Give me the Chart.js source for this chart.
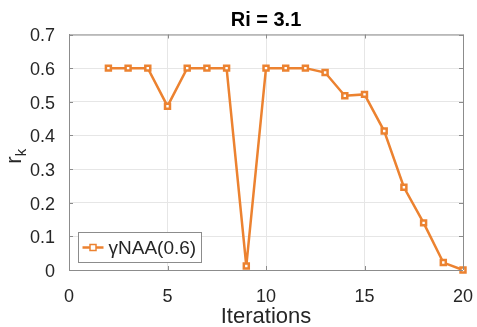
<!DOCTYPE html>
<html>
<head>
<meta charset="utf-8">
<script src="https://cdn.jsdelivr.net/npm/chart.js@4/dist/chart.umd.min.js"></script>
<style>
  html, body { margin: 0; padding: 0; background: #fff; }
  canvas { display: block; }
</style>
</head>
<body>
<canvas id="chart-canvas" width="477" height="327"></canvas>
<script>
// data
const iterations = [2, 3, 4, 5, 6, 7, 8, 9, 10, 11, 12, 13, 14, 15, 16, 17, 18, 19, 20];
const rk = [0.6, 0.6, 0.6, 0.487, 0.6, 0.6, 0.6, 0.012, 0.6, 0.6, 0.6, 0.587, 0.518, 0.522, 0.413, 0.246, 0.14, 0.022, 0.0];
const xTicks = [0, 5, 10, 15, 20];
const yTicks = ['0', '0.1', '0.2', '0.3', '0.4', '0.5', '0.6', '0.7'];
const seriesName = 'γNAA(0.6)';
const titleText = 'Ri = 3.1';

const orange = '#EC8230';
const font = 'Liberation Sans, Arial, Helvetica, sans-serif';

// title, box, inward ticks, y label with subscript, legend inside the axes
const extras = {
  id: 'extras',
  afterDraw(chart) {
    const { ctx, chartArea: a, scales } = chart;
    ctx.save();
    ctx.fillStyle = '#000';
    ctx.font = 'bold 20px ' + font;
    ctx.textAlign = 'center';
    ctx.textBaseline = 'alphabetic';
    ctx.fillText(titleText, (a.left + a.right) / 2, 26);
    ctx.restore();

    ctx.save();
    ctx.strokeStyle = '#8c8c8c';
    ctx.lineWidth = 1;
    ctx.beginPath();
    ctx.moveTo(a.left, a.top + 0.5);
    ctx.lineTo(a.right + 0.5, a.top + 0.5);
    ctx.lineTo(a.right + 0.5, a.bottom);
    // inward ticks
    xTicks.forEach(v => {
      const x = Math.round(scales.x.getPixelForValue(v)) + 0.5;
      ctx.moveTo(x, a.bottom); ctx.lineTo(x, a.bottom - 4);
      ctx.moveTo(x, a.top); ctx.lineTo(x, a.top + 4);
    });
    yTicks.forEach(t => {
      const y = Math.round(scales.y.getPixelForValue(parseFloat(t))) + 0.5;
      ctx.moveTo(a.left, y); ctx.lineTo(a.left + 4, y);
      ctx.moveTo(a.right, y); ctx.lineTo(a.right - 4, y);
    });
    ctx.stroke();

    // y axis label r_k
    ctx.fillStyle = '#262626';
    ctx.translate(21, (a.top + a.bottom) / 2 + 4);
    ctx.rotate(-Math.PI / 2);
    ctx.textBaseline = 'alphabetic';
    ctx.font = '15px ' + font;
    const kw = ctx.measureText('k').width;
    ctx.font = '22px ' + font;
    const rw = ctx.measureText('r').width;
    const x0 = -(rw + kw) / 2;
    ctx.fillText('r', x0, 0);
    ctx.font = '15px ' + font;
    ctx.fillText('k', x0 + rw, 5);
    ctx.restore();

    // legend
    ctx.save();
    const lx = 78.5, ly = 232.5, lw = 123, lh = 30;
    ctx.fillStyle = '#fff';
    ctx.fillRect(lx, ly, lw, lh);
    ctx.strokeStyle = '#8c8c8c';
    ctx.lineWidth = 1;
    ctx.strokeRect(lx, ly, lw, lh);
    const cy = ly + lh / 2;
    ctx.strokeStyle = orange;
    ctx.lineWidth = 2.5;
    ctx.beginPath();
    ctx.moveTo(lx + 4, cy); ctx.lineTo(lx + 25, cy);
    ctx.stroke();
    ctx.lineWidth = 1.5;
    ctx.fillStyle = '#fff';
    ctx.fillRect(lx + 11.5, cy - 3, 6, 6);
    ctx.strokeRect(lx + 11.5, cy - 3, 6, 6);
    ctx.fillStyle = '#262626';
    ctx.font = '19px ' + font;
    ctx.textBaseline = 'middle';
    ctx.fillText(seriesName, lx + 30, cy + 1);
    ctx.restore();
  }
};

new Chart(document.getElementById('chart-canvas'), {
  type: 'line',
  data: {
    datasets: [{
      label: seriesName,
      data: iterations.map((x, i) => ({ x: x, y: rk[i] })),
      borderColor: orange,
      borderWidth: 2.5,
      pointStyle: 'rect',
      pointRadius: 3.5,
      pointBorderWidth: 2.5,
      pointBorderColor: orange,
      pointBackgroundColor: '#fff',
      tension: 0,
      clip: false
    }]
  },
  options: {
    responsive: false,
    animation: false,
    devicePixelRatio: 1,
    layout: { padding: { left: 0, right: 14, top: 34.5, bottom: 0 } },
    plugins: {
      legend: { display: false },
      tooltip: { enabled: false },
      title: { display: false }
    },
    scales: {
      x: {
        type: 'linear',
        min: 0,
        max: 20,
        afterBuildTicks: s => { s.ticks = xTicks.map(v => ({ value: v })); },
        ticks: { color: '#262626', font: { family: font, size: 18 }, padding: 16, maxRotation: 0 },
        grid: { color: '#e6e6e6', drawTicks: false },
        border: { color: '#8c8c8c' },
        title: {
          display: true, text: 'Iterations', color: '#262626',
          font: { family: font, size: 22 }, padding: { top: 0, bottom: -3 }
        },
        afterFit: s => { s.height = 57; s.paddingLeft = 0; s.paddingRight = 0; }
      },
      y: {
        min: 0,
        max: 0.7,
        afterBuildTicks: s => { s.ticks = yTicks.map(t => ({ value: parseFloat(t) })); },
        ticks: {
          color: '#262626', font: { family: font, size: 18 }, padding: 14, labelOffset: 2,
          callback: (v, i) => yTicks[i]
        },
        grid: { color: '#e6e6e6', drawTicks: false },
        border: { color: '#8c8c8c' },
        afterFit: s => { s.width = 69; s.paddingTop = 0; s.paddingBottom = 0; }
      }
    }
  },
  plugins: [extras]
});
</script>
</body>
</html>
